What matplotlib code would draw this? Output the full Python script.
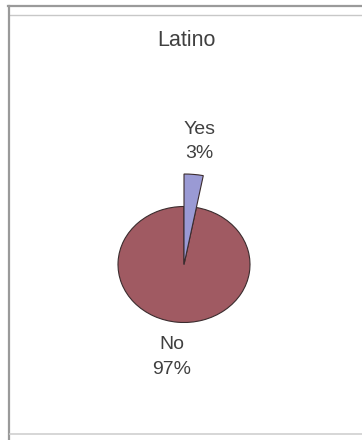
import numpy as np
import matplotlib
matplotlib.use("Agg")
from matplotlib import pyplot as plt
from matplotlib.lines import Line2D

plt.rcParams.update({
    "font.family": ["Liberation Sans", "DejaVu Sans"],
})

title = "Latino"
categories = ["Yes", "No"]
percents = [3, 97]
colors = ["#9a9ad4", "#a05a62"]

W, H = 362, 440
fig = plt.figure(figsize=(W / 100, H / 100), dpi=100)
ax = fig.add_axes([0, 0, 1, 1])

# pie centre / radius in pixels (picture is slightly squashed vertically)
cx, cy = 184, 264.5
rx, ry = 66, 58

wedges, _ = ax.pie(percents, colors=colors, startangle=90, counterclock=False,
                   radius=1.0, wedgeprops=dict(edgecolor="#3b2c2e", linewidth=0.8))
wedges[0].set_radius(1.56)  # the small slice is drawn pulled out
wedges[0].set_zorder(3)

ax.set_aspect("auto")
ax.set_xlim(-cx / rx, (W - cx) / rx)
ax.set_ylim(-(H - cy) / ry, cy / ry)
ax.axis("off")

txt = dict(ha="center", va="center", fontsize=14, color="#404040", linespacing=1.6)
ax.text(0.24, 2.12, f"{categories[0]}\n{percents[0]}%", **txt)
ax.text(-0.18, -1.59, f"{categories[1]}\n{percents[1]}%", **txt)

fig.text(186 / W, 1 - 40 / H, title, ha="center", va="center", fontsize=15.5, color="#404040")

# frame lines
fig.add_artist(Line2D([8 / W, 1], [1 - 6 / H, 1 - 6 / H], color="#9a9a9a", lw=1.6))
fig.add_artist(Line2D([10 / W, 1], [1 - 15 / H, 1 - 15 / H], color="#c8c8c8", lw=1.0))
fig.add_artist(Line2D([8.5 / W, 8.5 / W], [0, 1 - 6 / H], color="#9a9a9a", lw=1.6))
fig.add_artist(Line2D([10 / W, 1], [1 - 434 / H, 1 - 434 / H], color="#cfcfcf", lw=1.2))

plt.savefig("out.png", dpi=100)
plt.close()
